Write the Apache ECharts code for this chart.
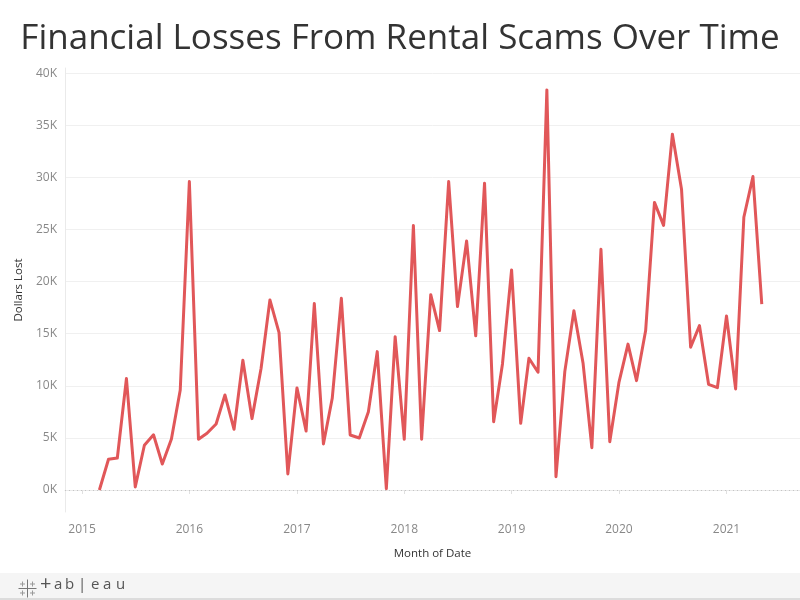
<!DOCTYPE html>
<html><head><meta charset="utf-8">
<script src="https://cdn.jsdelivr.net/npm/echarts@6/dist/echarts.min.js"></script>
<style>html,body{margin:0;padding:0;background:#fff}#c{width:800px;height:600px}</style>
</head><body><div id="c"></div>
<script>
const months = [
  '2015-03','2015-04','2015-05','2015-06','2015-07','2015-08','2015-09','2015-10','2015-11','2015-12',
  '2016-01','2016-02','2016-03','2016-04','2016-05','2016-06','2016-07','2016-08','2016-09','2016-10','2016-11','2016-12',
  '2017-01','2017-02','2017-03','2017-04','2017-05','2017-06','2017-07','2017-08','2017-09','2017-10','2017-11','2017-12',
  '2018-01','2018-02','2018-03','2018-04','2018-05','2018-06','2018-07','2018-08','2018-09','2018-10','2018-11','2018-12',
  '2019-01','2019-02','2019-03','2019-04','2019-05','2019-06','2019-07','2019-08','2019-09','2019-10','2019-11','2019-12',
  '2020-01','2020-02','2020-03','2020-04','2020-05','2020-06','2020-07','2020-08','2020-09','2020-10','2020-11','2020-12',
  '2021-01','2021-02','2021-03','2021-04','2021-05'
];
const losses = [
  0, 2950, 3070, 10700, 300, 4300, 5300, 2500, 4900, 9600,
  29600, 4870, 5440, 6340, 9120, 5830, 12450, 6850, 11680, 18240, 15100, 1540,
  9800, 5660, 17900, 4420, 8800, 18400, 5280, 4990, 7520, 13280, 130, 14720,
  4870, 25380, 4870, 18750, 15300, 29600, 17600, 23900, 14800, 29450, 6560, 12100,
  21120, 6400, 12640, 11300, 38400, 1280, 11360, 17200, 12200, 4060, 23100, 4640,
  10300, 14000, 10500, 15300, 27600, 25400, 34150, 28870, 13700, 15780, 10140, 9820,
  16700, 9700, 26180, 30080, 17830
];
const yearTicks = ['2015','2016','2017','2018','2019','2020','2021'];
const yTicks = [0, 5000, 10000, 15000, 20000, 25000, 30000, 35000, 40000];

const FONT = '"Open Sans", "Noto Sans", sans-serif';
const ts = s => Date.UTC(+s.slice(0, 4), (+s.slice(5, 7) || 1) - 1, +s.slice(8, 10) || 1);
const chart = echarts.init(document.getElementById('c'), null, {renderer: 'canvas'});
const yearTs = yearTicks.map(y => ts(y + '-01-01'));

const logoChars = ['+', 'a', 'b', '|', 'e', 'a', 'u'];
const logoX = [45, 59, 70, 83, 96, 108, 121];

chart.setOption({
  animation: false,
  backgroundColor: '#fff',
  title: {
    text: 'Financial Losses From Rental Scams Over Time',
    left: 'center', top: 17,
    textStyle: {fontFamily: FONT, fontSize: 35, fontWeight: 'normal', color: '#333'}
  },
  grid: {left: 65, right: 0, top: 68, bottom: 88, containLabel: false},
  xAxis: {
    type: 'value',
    min: ts('2014-11-04'),
    max: ts('2021-09-08'),
    name: 'Month of Date', nameLocation: 'middle', nameGap: 36,
    nameTextStyle: {fontFamily: FONT, fontSize: 11.5, color: '#333'},
    axisLine: {show: true, lineStyle: {color: '#eaeaea', width: 1}},
    axisTick: {show: true, length: 4, inside: false, customValues: yearTs, lineStyle: {color: '#e0e0e0'}},
    axisLabel: {
      customValues: yearTs, margin: 12,
      formatter: v => String(new Date(v).getUTCFullYear()),
      fontFamily: FONT, fontSize: 12, color: '#888'
    },
    splitLine: {show: false}
  },
  yAxis: {
    type: 'value', min: -2110, max: 40500,
    name: 'Dollars Lost', nameLocation: 'middle', nameGap: 38,
    nameTextStyle: {fontFamily: FONT, fontSize: 11.5, color: '#333'},
    axisLine: {show: true, lineStyle: {color: '#eaeaea', width: 1}},
    axisTick: {show: false, customValues: yTicks.slice(1)},
    axisLabel: {
      customValues: yTicks, margin: 8,
      formatter: v => (v / 1000) + 'K',
      fontFamily: FONT, fontSize: 12, color: '#888'
    },
    splitLine: {show: true, lineStyle: {color: '#f0f0f0', width: 1}}
  },
  series: [{
    type: 'line',
    data: months.map((m, i) => [ts(m + '-01'), losses[i]]),
    showSymbol: false, symbol: 'none',
    lineStyle: {color: '#e15759', width: 3, join: 'round'},
    itemStyle: {color: '#e15759'},
    markLine: {
      silent: true, symbol: 'none', label: {show: false},
      lineStyle: {type: [1, 3], color: '#c4c4c4', width: 1},
      data: [{yAxis: 0}]
    },
    z: 3
  }],
  graphic: [
    {type: 'rect', shape: {x: 0, y: 573, width: 800, height: 27}, style: {fill: '#f5f5f5'}, silent: true},
    {type: 'rect', shape: {x: 0, y: 598, width: 800, height: 2}, style: {fill: '#dcdcdc'}, silent: true},
    {type: 'group', left: 16, top: 577, children: [
      {type: 'line', shape: {x1: 9, y1: 0, x2: 9, y2: 18}, style: {stroke: '#777', lineWidth: 1}},
      {type: 'line', shape: {x1: 0, y1: 9, x2: 18, y2: 9}, style: {stroke: '#777', lineWidth: 1}},
      {type: 'line', shape: {x1: 4, y1: 2, x2: 4, y2: 7}, style: {stroke: '#999', lineWidth: 1}},
      {type: 'line', shape: {x1: 1.5, y1: 4.5, x2: 6.5, y2: 4.5}, style: {stroke: '#999', lineWidth: 1}},
      {type: 'line', shape: {x1: 14, y1: 2, x2: 14, y2: 7}, style: {stroke: '#999', lineWidth: 1}},
      {type: 'line', shape: {x1: 11.5, y1: 4.5, x2: 16.5, y2: 4.5}, style: {stroke: '#999', lineWidth: 1}},
      {type: 'line', shape: {x1: 4, y1: 11, x2: 4, y2: 16}, style: {stroke: '#999', lineWidth: 1}},
      {type: 'line', shape: {x1: 1.5, y1: 13.5, x2: 6.5, y2: 13.5}, style: {stroke: '#999', lineWidth: 1}},
      {type: 'line', shape: {x1: 14, y1: 11, x2: 14, y2: 16}, style: {stroke: '#999', lineWidth: 1}},
      {type: 'line', shape: {x1: 11.5, y1: 13.5, x2: 16.5, y2: 13.5}, style: {stroke: '#999', lineWidth: 1}}
    ]}
  ].concat(logoChars.map((c, i) => ({
    type: 'text', left: logoX[i] - 5, top: c === '+' ? 574 : 577,
    style: {text: c, fill: '#555', font: (c === '+' ? '20px' : '15px') + ' "Open Sans", sans-serif'}
  })))
});
</script>
</body></html>
